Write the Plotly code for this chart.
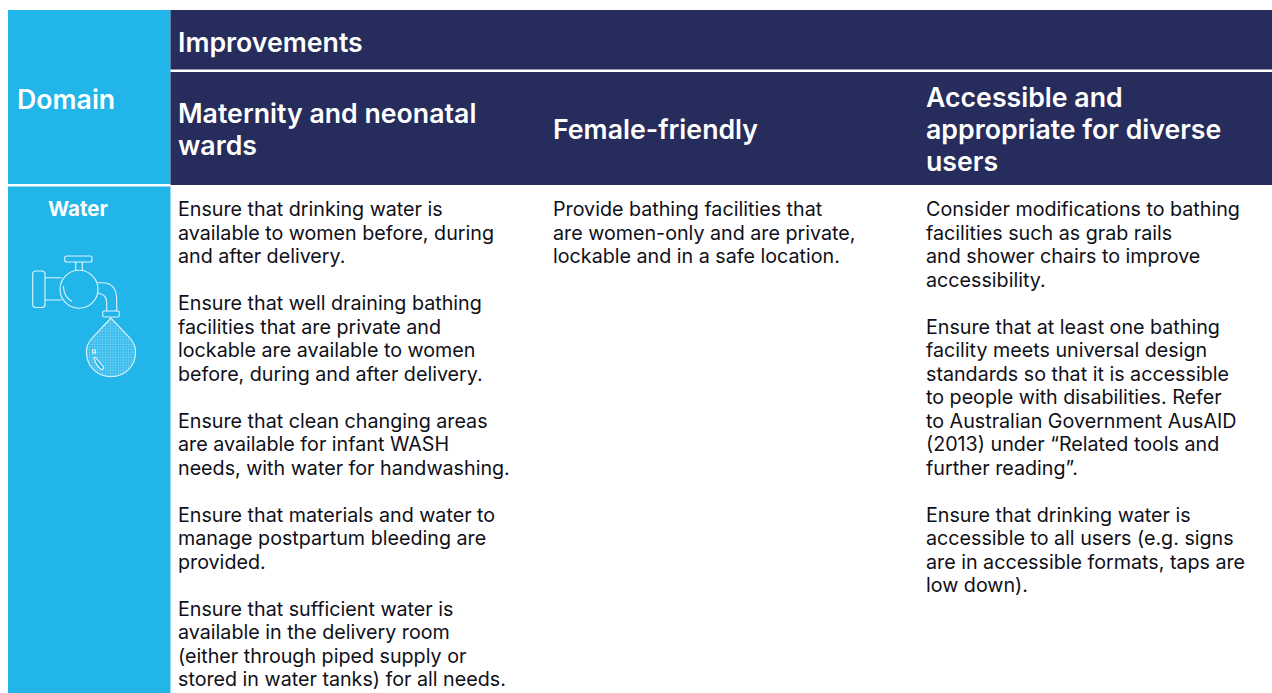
import plotly.graph_objects as go

CYAN = "#22B5EA"
NAVY = "#262C5C"
TEXT = "#0F1018"

domain_label = "Domain"
group_label = "Improvements"
row_label = "Water"
column_headers = [
    ["Maternity and neonatal", "wards"],
    ["Female-friendly"],
    ["Accessible and", "appropriate for diverse", "users"],
]
maternity_lines = [
    "Ensure that drinking water is", "available to women before, during", "and after delivery.", None,
    "Ensure that well draining bathing", "facilities that are private and", "lockable are available to women",
    "before, during and after delivery.", None,
    "Ensure that clean changing areas", "are available for infant WASH", "needs, with water for handwashing.", None,
    "Ensure that materials and water to", "manage postpartum bleeding are", "provided.", None,
    "Ensure that sufficient water is", "available in the delivery room", "(either through piped supply or",
    "stored in water tanks) for all needs.",
]
female_lines = [
    "Provide bathing facilities that", "are women-only and are private,", "lockable and in a safe location.",
]
accessible_lines = [
    "Consider modifications to bathing", "facilities such as grab rails", "and shower chairs to improve",
    "accessibility.", None,
    "Ensure that at least one bathing", "facility meets universal design", "standards so that it is accessible",
    "to people with disabilities. Refer", "to Australian Government AusAID", "(2013) under \u201cRelated tools and",
    "further reading\u201d.", None,
    "Ensure that drinking water is", "accessible to all users (e.g. signs", "are in accessible formats, taps are",
    "low down).",
]
drop_x = [111, 103, 95, 90, 87, 86.4, 87.5, 91, 97, 104, 111, 118, 125, 131, 134.5, 135.6, 135, 132, 127, 119]
drop_y = [318, 326.5, 334.5, 340.5, 347, 352.3, 360, 366.5, 372.3, 375.8, 376.7, 375.8, 372.3, 366.5, 360, 352.3,
          347, 340.5, 334.5, 326.5]

FONT = "Inter"
BODY = 19.7
HEAD = 26.7
X_COLS = [176, 551, 924]
LINE_H = 23.5
BODY_TOP = 209.2

shapes, ann = [], []

def rect(x0, y0, x1, y1, fill):
    shapes.append(dict(type="rect", x0=x0, y0=y0, x1=x1, y1=y1, fillcolor=fill, line_width=0, layer="below"))

def text(x, y, s, size, color, weight=400, anchor="left"):
    ann.append(dict(x=x, y=y, text=s, showarrow=False, xanchor=anchor, yanchor="middle", xref="x", yref="y",
                    align=anchor, font=dict(family=FONT, size=size, color=color, weight=weight)))

rect(8, 10, 170.5, 184, CYAN)
rect(8, 186.5, 170.5, 693, CYAN)
rect(170.5, 10, 1272, 69.5, NAVY)
rect(170.5, 72, 1272, 185, NAVY)

text(14.5, 98.5, domain_label, HEAD, "white", 600)
text(176, 41.5, group_label, HEAD, "white", 600)
text(77.5, 208.5, row_label, 20.5, "white", 700, "center")

header_y = [[112.5, 144.5], [128.5], [96.5, 128.5, 160.5]]
for x, lines, ys in zip(X_COLS, column_headers, header_y):
    for s, y in zip(lines, ys):
        text(x, y, s, HEAD, "white", 600)

for x, lines in zip(X_COLS, [maternity_lines, female_lines, accessible_lines]):
    for i, s in enumerate(lines):
        if s:
            text(x, BODY_TOP + i * LINE_H, s, BODY, TEXT)

# Tap icon
STROKE = dict(color="rgba(255,255,255,0.85)", width=1.1)
def path(d, fill="rgba(0,0,0,0)"):
    shapes.append(dict(type="path", path=d, line=STROKE, fillcolor=fill))

def rrect(x0, y0, x1, y1, r):
    return (f"M{x0+r},{y0} L{x1-r},{y0} Q{x1},{y0} {x1},{y0+r} L{x1},{y1-r} Q{x1},{y1} {x1-r},{y1} "
            f"L{x0+r},{y1} Q{x0},{y1} {x0},{y1-r} L{x0},{y0+r} Q{x0},{y0} {x0+r},{y0} Z")

path(rrect(64.7, 256, 92, 262, 2))
path("M75.7,262 L75.7,270.8 M82.3,262 L82.3,270.8")
shapes.append(dict(type="circle", x0=60, y0=270.3, x1=98, y1=308.3, line=STROKE))
path("M63.5,286 Q63.5,297 72,301.5")
path(rrect(32.7, 271, 45, 307.5, 3))
path("M45,277.7 L61.7,277.7 M45,300 L61.7,300")
path("M97.7,282.7 L103,282.7 Q116.7,283 116.7,300 L116.7,311 M97.7,293.3 Q106.7,294 106.7,303 L106.7,311")
path(rrect(102.7, 311, 119.3, 317, 1.5))
path("M111,318 L92,338 Q86,345 86.4,352.3 C86.4,366 97,376.7 111,376.7 C125,376.7 135.6,366 135.6,352.3 "
     "Q136,345 130,338 Z")
shapes.append(dict(type="rect", x0=92.5, y0=350, x1=95.5, y1=353, line=STROKE))
path("M94,358 L95.5,357.5 L103.5,367 Q104,369.5 101.5,369.5 Q96,366 94,358 Z", CYAN)

fig = go.Figure()
fig.add_trace(go.Scatter(
    x=drop_x, y=drop_y, mode="lines", fill="toself", line=dict(width=0), hoverinfo="skip",
    fillcolor=CYAN,
    fillpattern=dict(shape=".", fgcolor="rgba(255,255,255,0.8)", bgcolor=CYAN, size=2.6, solidity=0.45),
))
fig.update_layout(
    width=1272, height=693, margin=dict(l=0, r=0, t=0, b=0),
    paper_bgcolor="white", plot_bgcolor="white", showlegend=False,
    xaxis=dict(range=[0, 1272], visible=False, fixedrange=True),
    yaxis=dict(range=[693, 0], visible=False, fixedrange=True),
    shapes=shapes, annotations=ann,
)
fig.write_html("out.html", config={"displayModeBar": False},
               post_script="document.body.style.margin='0';document.body.style.overflow='hidden';")
